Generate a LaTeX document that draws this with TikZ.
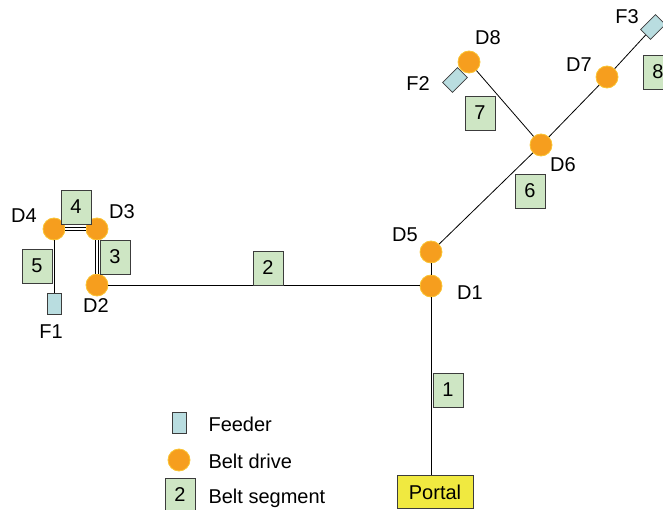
\documentclass[tikz,border=0pt]{standalone}
\usepackage{fontspec}
\setmainfont{Liberation Sans}
\usetikzlibrary{positioning}
\definecolor{driveorange}{RGB}{246,158,30}
\definecolor{driveedge}{RGB}{250,196,50}
\definecolor{seggreen}{RGB}{206,230,196}
\definecolor{feedblue}{RGB}{185,221,224}
\definecolor{portalyellow}{RGB}{240,233,64}
\definecolor{boxedge}{RGB}{60,60,60}
\begin{document}
\begin{tikzpicture}[x=1pt, y=-1pt, font=\fontsize{20}{24}\selectfont,
    drive/.style={circle, fill=driveorange, draw=driveedge, line width=0.8pt, minimum size=22pt, inner sep=0pt},
    feeder/.style={rectangle, fill=feedblue, draw=boxedge, line width=0.8pt, minimum width=14pt, minimum height=21pt, inner sep=0pt},
    segbox/.style={rectangle, fill=seggreen, draw=boxedge, line width=0.8pt, minimum width=30pt, minimum height=34pt, inner sep=0pt},
    portalbox/.style={rectangle, fill=portalyellow, draw=boxedge, line width=0.8pt, minimum width=76pt, minimum height=33pt, inner sep=0pt},
    belt/.style={line width=0.8pt},
    twinbelt/.style={line width=0.8pt, double, double distance=1.6pt}]
    \useasboundingbox (0,0) rectangle (663,510);

    % belt drives
    \node[drive] (D1) at (431,286) {};
    \node[drive] (D2) at (97,285)  {};
    \node[drive] (D3) at (97,229)  {};
    \node[drive] (D4) at (54,229)  {};
    \node[drive] (D5) at (431,252) {};
    \node[drive] (D6) at (541,145) {};
    \node[drive] (D7) at (607,77)  {};
    \node[drive] (D8) at (469,62)  {};

    % feeders and portal
    \node[feeder]            (F1) at (54,304)  {};
    \node[feeder, rotate=-45] (F2) at (455,80)  {};
    \node[feeder, rotate=-45] (F3) at (653,27)  {};
    \node[portalbox] (Portal) at (435,492) {Portal};

    % names
    \node (nD1) at (470,293) {D1};
    \node (nD2) at (96,306)  {D2};
    \node (nD3) at (122,212) {D3};
    \node (nD4) at (24,216)  {D4};
    \node (nD5) at (405,235) {D5};
    \node (nD6) at (563,165) {D6};
    \node (nD7) at (579,65)  {D7};
    \node (nD8) at (488,38)  {D8};
    \node (nF1) at (51,332)  {F1};
    \node (nF2) at (418,84)  {F2};
    \node (nF3) at (627,17)  {F3};

    % belts
    \draw[belt] (D1) -- (D1 |- Portal.north);
    \draw[belt] (D1) -- (D5);
    \draw[belt] (D2) -- (D2 -| D1.west);
    \draw[twinbelt] (D2) -- (D3);
    \draw[twinbelt] (D3) -- (D4);
    \draw[belt] (D4) -- (F1);
    \draw[belt] (D5) -- (D6);
    \draw[belt] (D6) -- (D7);
    \draw[belt] (D7) -- (F3);
    \draw[belt] (D6) -- (D8);

    % belt segments
    \node[segbox] (s1) at (448,390) {1};
    \node[segbox] (s2) at (268,268) {2};
    \node[segbox] (s3) at (115,257) {3};
    \node[segbox] (s4) at (76,207)  {4};
    \node[segbox] (s5) at (37,266)  {5};
    \node[segbox] (s6) at (530,191) {6};
    \node[segbox] (s7) at (480,113) {7};
    \node[segbox] (s8) at (658,72)  {8};

    % legend
    \node[feeder] (legF) at (179,423) {};
    \node[drive]  (legD) at (179,460) {};
    \node[segbox] (legS) at (180,495) {2};
    \node[anchor=west] (tF) at (205,424) {Feeder};
    \node[anchor=west] (tD) at (205,461) {Belt drive};
    \node[anchor=west] (tS) at (205,498) {Belt segment};
\end{tikzpicture}
\end{document}
